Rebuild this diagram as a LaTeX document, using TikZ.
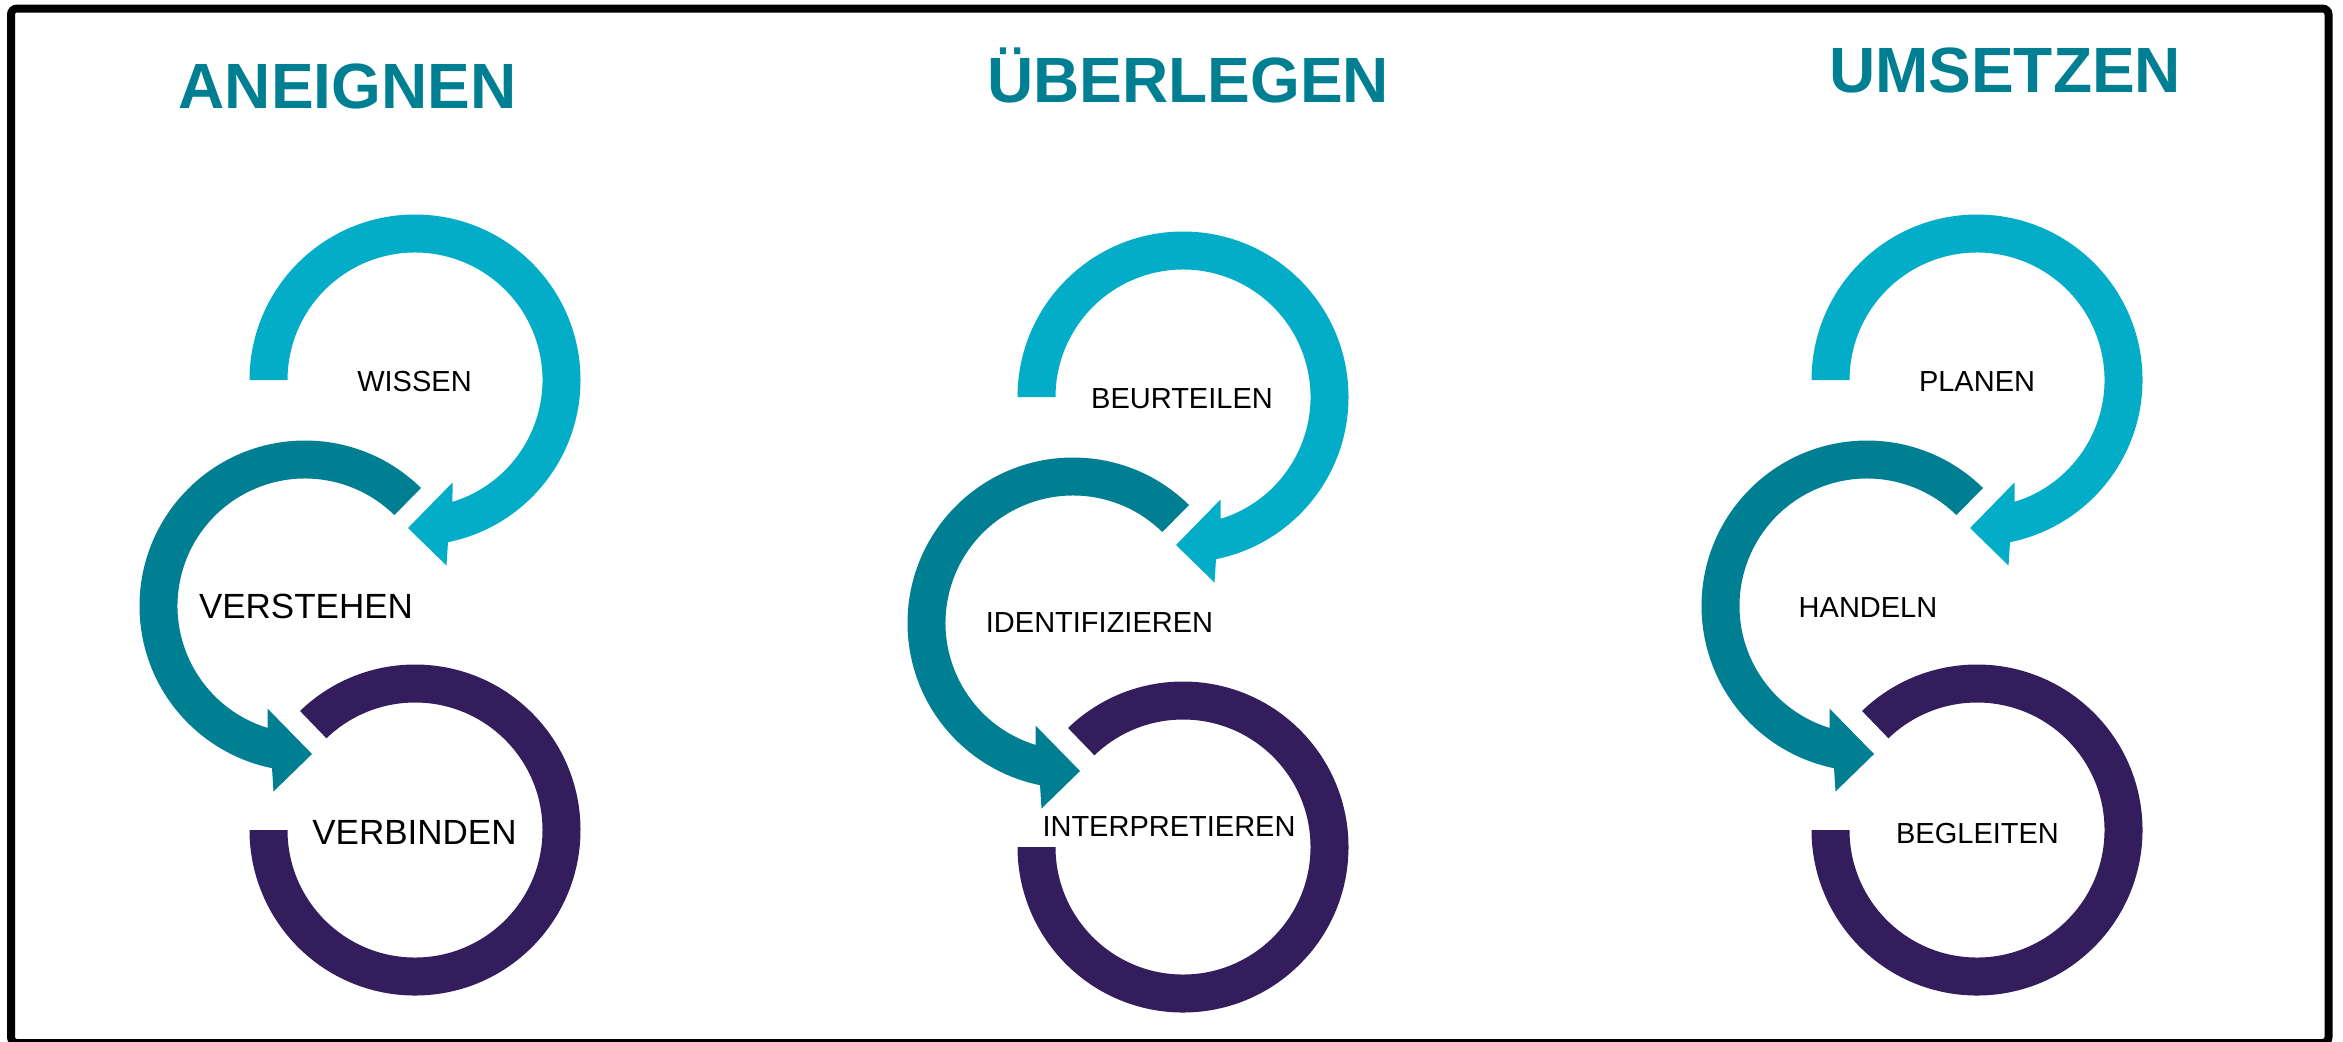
\documentclass[tikz,border=0pt]{standalone}
\usepackage{fontspec}
\setmainfont{Liberation Sans}
\definecolor{cblue}{RGB}{3,173,199}
\definecolor{cteal}{RGB}{0,127,147}
\definecolor{cpurple}{RGB}{52,29,92}
\newcommand\cycleshapes[2]{%
  \begin{scope}[shift={(415+#1,-380-#2)}]
    \fill[cblue] (180:165.5) arc[start angle=180,end angle=-78.5,radius=82.75pt]
      -- (31.5,-185.5) -- (-7,-148) -- (37.5,-102.5) -- (-72.9:127.5)
      arc[start angle=-72.9,end angle=180,radius=63.75pt] -- cycle;
  \end{scope}
  \begin{scope}[shift={(305+#1,-606-#2)}]
    \fill[cteal] (45.5:165.5) arc[start angle=45.5,end angle=258.5,radius=82.75pt]
      -- (-31.5,-185.5) -- (7,-148) -- (-37.5,-102.5) -- (252.9:127.5)
      arc[start angle=252.9,end angle=45.5,radius=63.75pt] -- cycle;
  \end{scope}
  \begin{scope}[shift={(415+#1,-830-#2)}]
    \fill[cpurple] (134:165.5) arc[start angle=134,end angle=-180,radius=82.75pt]
      -- (180:127.5) arc[start angle=-180,end angle=134,radius=63.75pt] -- cycle;
  \end{scope}}
\begin{document}
\begin{tikzpicture}[x=0.5pt,y=0.5pt,
  title/.style={font=\bfseries\fontsize{32}{32}\selectfont, text=cteal, inner sep=0, anchor=base},
  lbl/.style={font=\fontsize{14.5}{14.5}\selectfont, inner sep=0, anchor=base},
  lblbig/.style={font=\fontsize{17.5}{17.5}\selectfont, inner sep=0, anchor=base}]
\useasboundingbox (0,0) rectangle (2343,-1041);
\fill[white] (0,0) rectangle (2343,-1041);
\draw[line width=4pt, rounded corners=3pt] (11,-8.5) rectangle (2328.5,-1043);
% shapes
\cycleshapes{0}{0}
\cycleshapes{768}{17}
\cycleshapes{1562}{0}
% titles
\node[title] (t1) at (347.5,-108) {ANEIGNEN};
\node[title] (t2) at (1188,-102) {ÜBERLEGEN};
\node[title] (t3) at (2005,-92.5) {UMSETZEN};
% labels
\node[lbl] (a1) at (414.5,-391) {WISSEN};
\node[lblbig] (a2) at (306,-618) {VERSTEHEN};
\node[lblbig] (a3) at (414.5,-844) {VERBINDEN};
\node[lbl] (b1) at (1182,-408) {BEURTEILEN};
\node[lbl] (b2) at (1099.5,-632) {IDENTIFIZIEREN};
\node[lbl] (b3) at (1169,-836) {INTERPRETIEREN};
\node[lbl] (c1) at (1977,-391) {PLANEN};
\node[lbl] (c2) at (1868,-617) {HANDELN};
\node[lbl] (c3) at (1977.5,-843) {BEGLEITEN};
\end{tikzpicture}
\end{document}
